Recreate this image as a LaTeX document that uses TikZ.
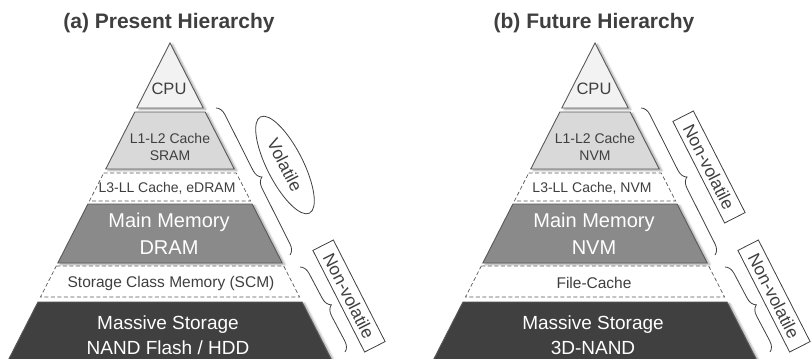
\documentclass[tikz,border=0pt]{standalone}
\usepackage{fontspec}
\setmainfont{Liberation Sans}
\usetikzlibrary{shapes.geometric,decorations.pathreplacing,shadows.blur}
\definecolor{edge}{HTML}{595959}
\definecolor{ink}{HTML}{3F3F3F}
\definecolor{cpufill}{HTML}{F2F2F2}
\definecolor{cachefill}{HTML}{D9D9D9}
\definecolor{memfill}{HTML}{8A8A8A}
\definecolor{diskfill}{HTML}{404040}
\newcommand{\fs}[2]{\fontsize{#1}{#2}\selectfont}
% one band of the pyramid: apex x, top y, bottom y, style
\newcommand{\band}[4]{%
  \pgfmathsetmacro{\wtop}{0.51*(#2-43)}%
  \pgfmathsetmacro{\wbot}{0.51*(#3-43)}%
  \path[#4] (#1-\wtop,#2) -- (#1+\wtop,#2) -- (#1+\wbot,#3) -- (#1-\wbot,#3) -- cycle;}
\tikzset{
  solidband/.style={draw=edge,line width=0.9pt,line join=miter,
    blur shadow={shadow xshift=2.5pt,shadow yshift=-1.5pt,shadow blur steps=6,shadow opacity=35}},
  dashband/.style={draw=edge,line width=0.7pt,dash pattern=on 4pt off 2.5pt,fill=white},
  title/.style={font=\bfseries\fs{21}{25},text=ink},
  darktext/.style={text=ink,align=center},
  lighttext/.style={text=white,align=center},
  curly/.style={draw=ink,line width=0.8pt,decorate,decoration={brace,amplitude=10pt}},
  tag/.style={draw=ink,line width=0.8pt,text=ink,font=\fs{17.5}{20},rotate=-63,inner sep=0pt},
  boxtag/.style={tag,minimum width=114pt,minimum height=23pt},
  ovaltag/.style={tag,ellipse,minimum width=108pt,minimum height=36pt}
}
\begin{document}
\begin{tikzpicture}[x=1pt,y=-1pt]
\useasboundingbox (0,0) rectangle (812,359);
\clip (0,0) rectangle (812,359);

% (a) present hierarchy
\node[title] (titleA) at (169,23) {(a) Present Hierarchy};
\path[solidband,fill=cpufill] (170,43) -- (203.2,108) -- (136.8,108) -- cycle;
\band{170}{112}{169}{solidband,fill=cachefill}
\band{170}{173}{201}{dashband}
\band{170}{204}{263}{solidband,fill=memfill}
\band{170}{266}{297}{dashband}
\band{170}{302}{370}{solidband,fill=diskfill}
\node[darktext,font=\fs{16.5}{20}] (cpuA) at (169,89) {CPU};
\node[darktext,font=\fs{14}{17}] (cacheA) at (170,147) {L1-L2 Cache\\SRAM};
\node[darktext,font=\fs{14}{17}] (llcA) at (167,188) {L3-LL Cache, eDRAM};
\node[lighttext,font=\fs{20}{27}] (memA) at (169,234) {Main Memory\\DRAM};
\node[darktext,font=\fs{15.5}{18}] (scmA) at (171,283) {Storage Class Memory (SCM)};
\node[lighttext,font=\fs{19}{25.5}] (diskA) at (168,335) {Massive Storage\\NAND Flash / HDD};
\coordinate (volTop) at (216,108);
\coordinate (volBot) at (290,255);
\coordinate (nvTopA) at (300,267);
\coordinate (nvBotA) at (345,352);
\draw[curly] (volTop) -- (volBot);
\draw[curly] (nvTopA) -- (nvBotA);
\node[ovaltag] (volA) at (285,165) {Volatile};
\node[boxtag] (nvA) at (349,296) {Non-volatile};

% (b) future hierarchy
\begin{scope}[xshift=425pt]
\node[title] (titleB) at (169,23) {(b) Future Hierarchy};
\path[solidband,fill=cpufill] (170,43) -- (203.2,108) -- (136.8,108) -- cycle;
\band{170}{112}{169}{solidband,fill=cachefill}
\band{170}{173}{201}{dashband}
\band{170}{204}{263}{solidband,fill=memfill}
\band{170}{266}{297}{dashband}
\band{170}{302}{370}{solidband,fill=diskfill}
\node[darktext,font=\fs{16.5}{20}] (cpuB) at (169,89) {CPU};
\node[darktext,font=\fs{14}{17}] (cacheB) at (170,147) {L1-L2 Cache\\NVM};
\node[darktext,font=\fs{14}{17}] (llcB) at (167,188) {L3-LL Cache, NVM};
\node[lighttext,font=\fs{20}{27}] (memB) at (169,234) {Main Memory\\NVM};
\node[darktext,font=\fs{15.5}{18}] (scmB) at (169,283) {File-Cache};
\node[lighttext,font=\fs{19}{25.5}] (diskB) at (168,335) {Massive Storage\\3D-NAND};
\coordinate (nvTopB) at (216,108);
\coordinate (nvMidB) at (290,255);
\coordinate (nvTopC) at (300,267);
\coordinate (nvBotC) at (345,352);
\draw[curly] (nvTopB) -- (nvMidB);
\draw[curly] (nvTopC) -- (nvBotC);
\node[boxtag] (nvB) at (284,167) {Non-volatile};
\node[boxtag] (nvC) at (349,296) {Non-volatile};
\end{scope}
\end{tikzpicture}
\end{document}
